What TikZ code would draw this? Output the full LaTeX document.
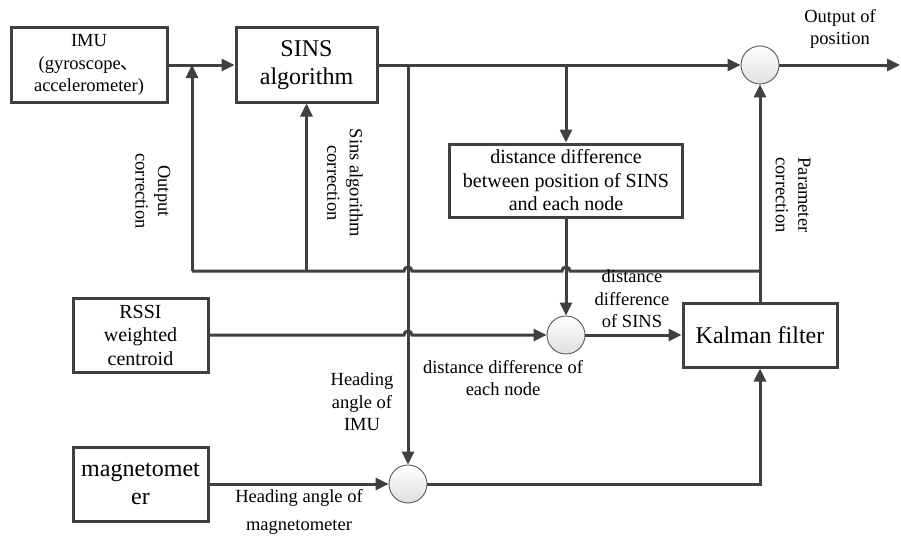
\documentclass[tikz,border=0pt]{standalone}
\usepackage{fontspec}
\setmainfont{Liberation Serif}
\newfontfamily\cjkf{Noto Sans CJK SC}
\usetikzlibrary{arrows.meta}
\definecolor{ln}{HTML}{404040}
\newcommand\ftsm{\fontsize{18.5}{22.5}\selectfont}
\newcommand\ftmd{\fontsize{20}{23.5}\selectfont}
\newcommand\ftbg{\fontsize{24}{28}\selectfont}
\begin{document}
\begin{tikzpicture}[x=1pt,y=-1pt,
  box/.style={draw=ln,line width=3pt,align=center,inner sep=0pt},
  sumc/.style={circle,draw=gray!70!black,line width=0.9pt,minimum size=38pt,inner sep=0pt,top color=white,bottom color=gray!25},
  conn/.style={draw=ln,line width=3pt},
  arr/.style={conn,-{Triangle[length=13pt,width=12pt]}},
  lbl/.style={align=center,font=\ftsm,inner sep=0pt}]
\useasboundingbox[fill=white] (0,0) rectangle (901,535);
% blocks
\node[box,minimum width=156pt,minimum height=74pt,font=\ftsm] (imu) at (89,65) {IMU\\(gyroscope{\cjkf 、}\\accelerometer)};
\node[box,minimum width=141pt,minimum height=74pt,font=\ftbg] (sins) at (306.5,65) {SINS\\algorithm};
\node[box,minimum width=233pt,minimum height=73pt,font=\ftmd] (dist) at (566,180.5) {distance difference\\between position of SINS\\and each node};
\node[box,minimum width=135pt,minimum height=74pt,font=\ftmd] (rssi) at (140.5,335) {RSSI\\weighted\\centroid};
\node[box,minimum width=135pt,minimum height=74pt,font=\ftbg] (mag) at (140.5,484) {magnetomet\\er};
\node[box,minimum width=154pt,minimum height=64pt,font=\ftbg] (kal) at (760,335) {Kalman filter};
\node[sumc] (c1) at (760,65) {};
\node[sumc] (c2) at (566,335) {};
\node[sumc] (c3) at (408,484) {};
% connectors
\coordinate (out) at (900,65);
\coordinate (fb) at (760,271);
\coordinate (fbl) at (192,271);
\draw[arr] (imu.east) -- (sins.west);
\draw[arr] (sins.east) -- (c1.west);
\draw[arr] (c1.east) -- (out);
\draw[arr] (dist.north |- sins.east) -- (dist.north);
\draw[arr] (c3.north |- sins.east) -- (c3.north);
\draw[arr] (dist.south) -- (c2.north);
\draw[arr] (rssi.east) -- (404,335) arc[start angle=180,end angle=0,radius=4pt] -- (c2.west);
\draw[arr] (mag.east) -- (c3.west);
\draw[arr] (c2.east) -- (kal.west);
\draw[arr] (c3.east) -| (kal.south);
\draw[arr] (kal.north) -- (c1.south);
\draw[conn] (fb) -- (570,271) arc[start angle=0,end angle=180,radius=4pt] -- (412,271) arc[start angle=0,end angle=180,radius=4pt] -- (fbl);
\draw[arr] (fbl) -- (fbl |- imu.east);
\draw[arr] (sins.south |- fb) -- (sins.south);
% labels
\node[lbl,rotate=-90] (lo) at (153,191) {Output\\correction};
\node[lbl,rotate=-90] (ls) at (345,183) {Sins algorithm\\correction};
\node[lbl,rotate=-90] (lp) at (793,195) {Parameter\\correction};
\node[lbl] (lout) at (840,29) {Output of\\position};
\node[lbl] (lds) at (632,299) {distance\\difference\\of SINS};
\node[lbl] (ldn) at (503,378) {distance difference of\\each node};
\node[lbl] (lhi) at (362,402) {Heading\\angle of\\IMU};
\node[lbl,font=\fontsize{18.5}{28}\selectfont] (lhm) at (299,512) {Heading angle of\\magnetometer};
\end{tikzpicture}
\end{document}
